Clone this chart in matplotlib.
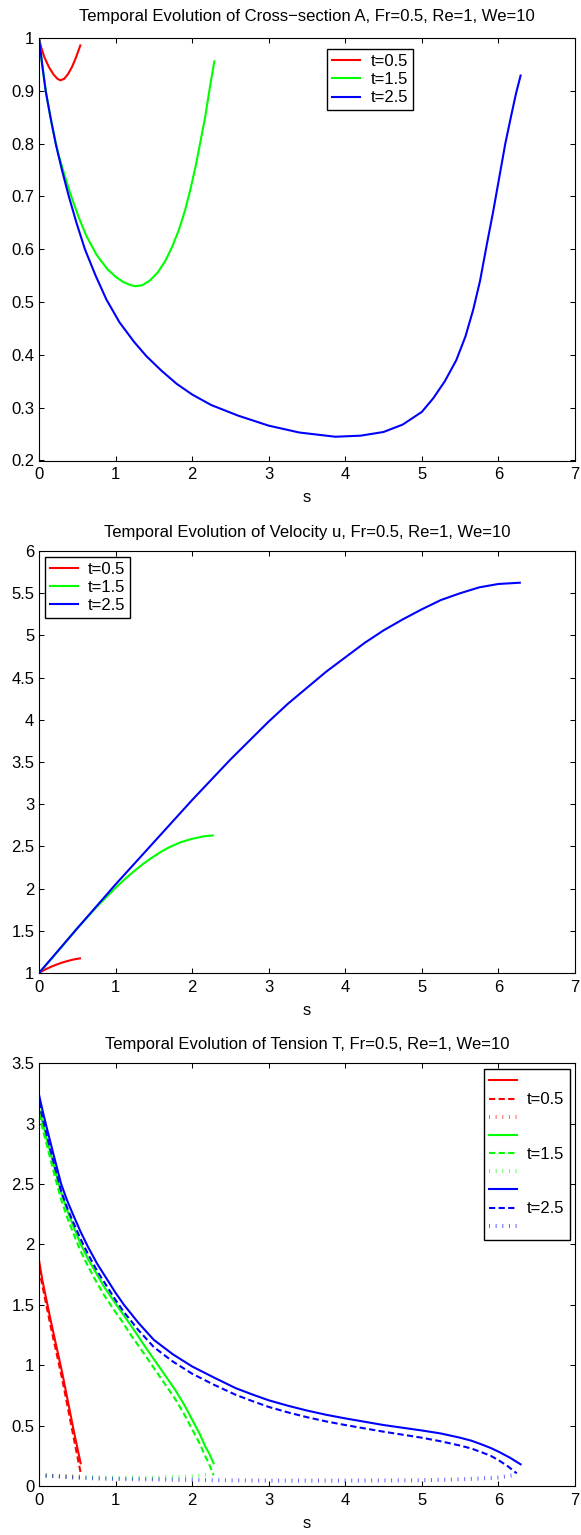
import matplotlib
matplotlib.use("Agg")
import matplotlib.pyplot as plt
from matplotlib.ticker import FormatStrFormatter, MultipleLocator

# ---- Cross-section A ----
S_A_05 = [0, 0.03, 0.07, 0.13, 0.19, 0.24, 0.28, 0.33, 0.38, 0.43, 0.48, 0.54]
A_05 = [1.0, 0.982, 0.964, 0.945, 0.931, 0.923, 0.920, 0.923, 0.932, 0.945, 0.962, 0.986]

S_A_15 = [0, 0.05, 0.1, 0.17, 0.25, 0.33, 0.41, 0.52, 0.62, 0.75, 0.89, 1.0, 1.1,
          1.2, 1.26, 1.35, 1.45, 1.55, 1.65, 1.74, 1.83, 1.91, 1.98, 2.05, 2.11,
          2.17, 2.23, 2.29]
A_15 = [1.0, 0.94, 0.89, 0.835, 0.782, 0.742, 0.705, 0.66, 0.625, 0.59, 0.563, 0.548,
        0.538, 0.532, 0.530, 0.532, 0.541, 0.556, 0.578, 0.605, 0.638, 0.675, 0.715,
        0.76, 0.805, 0.85, 0.905, 0.956]

S_A_25 = [0, 0.04, 0.087, 0.15, 0.218, 0.3, 0.39, 0.49, 0.6, 0.74, 0.88, 1.05, 1.24,
          1.4, 1.6, 1.8, 2.0, 2.25, 2.6, 3.0, 3.4, 3.87, 4.2, 4.5, 4.75, 5.0, 5.15,
          5.3, 5.45, 5.57, 5.67, 5.76, 5.85, 5.93, 6.01, 6.09, 6.17, 6.23, 6.29]
A_25 = [1.0, 0.952, 0.90, 0.85, 0.80, 0.75, 0.70, 0.65, 0.60, 0.55, 0.505, 0.462,
        0.425, 0.398, 0.37, 0.345, 0.325, 0.305, 0.285, 0.266, 0.253, 0.245, 0.247,
        0.254, 0.268, 0.292, 0.318, 0.35, 0.39, 0.435, 0.485, 0.54, 0.61, 0.67,
        0.735, 0.80, 0.855, 0.895, 0.929]

# ---- Velocity u ----
S_U_05 = [0, 0.05, 0.1, 0.16, 0.22, 0.3, 0.37, 0.45, 0.535]
U_05 = [1.0, 1.027, 1.05, 1.075, 1.097, 1.123, 1.142, 1.16, 1.174]

S_U_15 = [0, 0.25, 0.5, 0.75, 1.0, 1.13, 1.26, 1.37, 1.48, 1.6, 1.7, 1.85, 2.0, 2.15, 2.27]
U_15 = [1.0, 1.26, 1.53, 1.78, 2.01, 2.12, 2.22, 2.30, 2.37, 2.44, 2.49, 2.55, 2.59,
        2.62, 2.63]

S_U_25 = [0, 0.5, 1.0, 1.5, 2.0, 2.5, 3.0, 3.25, 3.5, 3.75, 4.0, 4.25, 4.5, 4.75,
          5.0, 5.25, 5.5, 5.75, 6.0, 6.28]
U_25 = [1.0, 1.53, 2.05, 2.55, 3.05, 3.53, 3.98, 4.19, 4.38, 4.57, 4.74, 4.91, 5.06,
        5.19, 5.31, 5.42, 5.50, 5.57, 5.61, 5.625]

# ---- Tension T (solid, dashed, dotted per time) ----
S_T_05 = [0, 0.044, 0.15, 0.305, 0.45, 0.544]
T_05_SOLID = [1.87, 1.705, 1.38, 0.933, 0.47, 0.188]
S_T_05_D = [0, 0.044, 0.15, 0.305, 0.45, 0.55]
T_05_DASH = [1.80, 1.66, 1.33, 0.88, 0.41, 0.09]
S_T_05_DOT = [0, 0.25, 0.54]
T_05_DOT = [0.09, 0.083, 0.078]

S_T_15 = [0, 0.05, 0.1, 0.2, 0.29, 0.37, 0.45, 0.54, 0.64, 0.75, 0.85, 1.0, 1.1, 1.2,
          1.39, 1.6, 1.78, 1.9, 2.0, 2.1, 2.17, 2.23, 2.28]
T_15_SOLID = [3.13, 3.0, 2.88, 2.64, 2.43, 2.28, 2.15, 2.01, 1.88, 1.76, 1.65, 1.51,
              1.42, 1.33, 1.15, 0.96, 0.795, 0.67, 0.55, 0.43, 0.33, 0.26, 0.188]
T_15_DASH = [3.08, 2.95, 2.83, 2.58, 2.37, 2.22, 2.09, 1.95, 1.82, 1.69, 1.58, 1.44,
             1.35, 1.25, 1.08, 0.885, 0.72, 0.59, 0.47, 0.35, 0.25, 0.17, 0.09]
S_T_15_DOT = [0, 0.5, 1.0, 1.5, 2.0, 2.25]
T_15_DOT = [0.088, 0.075, 0.068, 0.068, 0.08, 0.1]

S_T_25 = [0, 0.05, 0.1, 0.2, 0.29, 0.37, 0.45, 0.54, 0.64, 0.76, 0.88, 1.0, 1.11, 1.3,
          1.5, 1.75, 2.0, 2.28, 2.57, 2.8, 3.0, 3.25, 3.5, 3.75, 4.0, 4.5, 5.0, 5.25,
          5.5, 5.65, 5.8, 5.9, 6.0, 6.15, 6.29]
T_25_SOLID = [3.24, 3.10, 2.97, 2.72, 2.50, 2.36, 2.24, 2.11, 1.98, 1.84, 1.72, 1.60,
              1.50, 1.35, 1.21, 1.09, 0.99, 0.90, 0.81, 0.755, 0.71, 0.665, 0.625,
              0.59, 0.56, 0.505, 0.46, 0.435, 0.40, 0.375, 0.34, 0.315, 0.285, 0.235,
              0.18]
S_T_25_D = [0, 0.05, 0.1, 0.2, 0.29, 0.37, 0.45, 0.54, 0.64, 0.76, 0.88, 1.0, 1.11,
            1.3, 1.5, 1.75, 2.0, 2.28, 2.57, 2.8, 3.0, 3.25, 3.5, 3.75, 4.0, 4.5, 5.0,
            5.25, 5.5, 5.65, 5.8, 5.9, 6.0, 6.12, 6.24]
T_25_DASH = [3.18, 3.04, 2.91, 2.66, 2.44, 2.30, 2.18, 2.05, 1.92, 1.78, 1.66, 1.54,
             1.44, 1.29, 1.15, 1.03, 0.93, 0.84, 0.755, 0.70, 0.655, 0.61, 0.57, 0.535,
             0.505, 0.45, 0.40, 0.37, 0.335, 0.31, 0.275, 0.25, 0.215, 0.165, 0.105]
S_T_25_DOT = [0, 0.5, 1.0, 2.0, 3.0, 4.0, 5.0, 5.5, 6.0, 6.2]
T_25_DOT = [0.09, 0.068, 0.058, 0.05, 0.045, 0.045, 0.048, 0.055, 0.07, 0.09]

LABELS = ["t=0.5", "t=1.5", "t=2.5"]
RED = "#ff0000"
GREEN = "#00ff00"
BLUE = "#0000ff"

plt.rcParams.update({
    "font.family": ["Liberation Sans", "DejaVu Sans"],
    "font.size": 12,
    "lines.linewidth": 1.5,
})

LW = 1.5
DASH = (0, (3.0, 1.6))
DOT_LW = 2.9
DOT = (0, (0.25, 1.4))
LEGEND_KW = dict(fancybox=False, edgecolor="black", framealpha=1, borderpad=0.3,
                 labelspacing=0.19, handlelength=1.68, handletextpad=0.6,
                 borderaxespad=0)


def style(ax, ylim, ystep, title, pad):
    ax.set_xlim(0, 7)
    ax.set_ylim(*ylim)
    ax.xaxis.set_major_locator(MultipleLocator(1))
    ax.yaxis.set_major_locator(MultipleLocator(ystep))
    ax.yaxis.set_major_formatter(FormatStrFormatter("%g"))
    ax.tick_params(direction="in", top=True, right=True, length=3.6, width=0.75,
                   labelsize=12)
    ax.tick_params(axis="x", pad=5)
    ax.tick_params(axis="y", pad=3.4)
    for spine in ax.spines.values():
        spine.set_linewidth(0.8)
    ax.set_xlabel("s", labelpad=5.7)
    ax.set_title(title, fontsize=12, pad=pad)


fig = plt.figure(figsize=(5.81, 15.35), dpi=100)
left, width = 0.0671, 0.9225

# Panel 1: cross-section
ax1 = fig.add_axes([left, 0.700, width, 0.2752])
ax1.plot(S_A_05, A_05, color=RED, lw=LW, label=LABELS[0])
ax1.plot(S_A_15, A_15, color=GREEN, lw=LW, label=LABELS[1])
ax1.plot(S_A_25, A_25, color=BLUE, lw=LW, label=LABELS[2])
style(ax1, (0.2, 1.0), 0.1,
      "Temporal Evolution of Cross\u2212section A, Fr=0.5, Re=1, We=10", 12)
ax1.legend(loc="upper left", bbox_to_anchor=(0.538, 0.974), **LEGEND_KW)

# Panel 2: velocity
ax2 = fig.add_axes([left, 0.3661, width, 0.2749])
ax2.plot(S_U_05, U_05, color=RED, lw=LW, label=LABELS[0])
ax2.plot(S_U_15, U_15, color=GREEN, lw=LW, label=LABELS[1])
ax2.plot(S_U_25, U_25, color=BLUE, lw=LW, label=LABELS[2])
style(ax2, (1, 6), 0.5,
      "Temporal Evolution of Velocity u, Fr=0.5, Re=1, We=10", 10)
ax2.legend(loc="upper left", bbox_to_anchor=(0.0104, 0.986), **LEGEND_KW)

# Panel 3: tension
ax3 = fig.add_axes([left, 0.0319, width, 0.2754])
groups = [
    (RED, S_T_05, T_05_SOLID, S_T_05_D, T_05_DASH, S_T_05_DOT, T_05_DOT),
    (GREEN, S_T_15, T_15_SOLID, S_T_15, T_15_DASH, S_T_15_DOT, T_15_DOT),
    (BLUE, S_T_25, T_25_SOLID, S_T_25_D, T_25_DASH, S_T_25_DOT, T_25_DOT),
]
handles, labels = [], []
for (color, s1, y1, s2, y2, s3, y3), lab in zip(groups, LABELS):
    h1, = ax3.plot(s1, y1, color=color, lw=LW)
    h2, = ax3.plot(s2, y2, color=color, lw=LW, linestyle=DASH)
    h3, = ax3.plot(s3, y3, color=color, lw=DOT_LW, linestyle=DOT, alpha=0.6,
                   dash_capstyle="butt")
    handles += [h1, h2, h3]
    labels += ["", lab, ""]
style(ax3, (0, 3.5), 0.5,
      "Temporal Evolution of Tension T, Fr=0.5, Re=1, We=10", 10)
ax3.legend(handles, labels, loc="upper right", bbox_to_anchor=(0.990, 0.986),
           **LEGEND_KW)

fig.savefig("out.png", dpi=100)
